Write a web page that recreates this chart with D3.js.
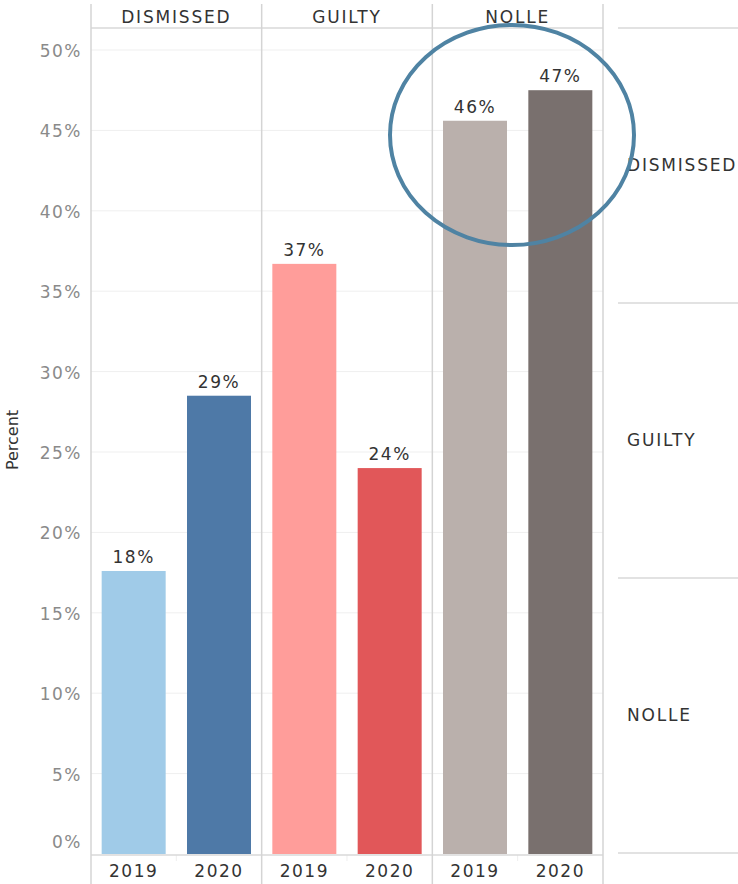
<!DOCTYPE html>
<html>
<head>
<meta charset="utf-8">
<script src="https://cdn.jsdelivr.net/npm/d3@7"></script>
<style>
  body { margin: 0; background: #fff; }
  text { font-family: "DejaVu Sans", "Noto Sans", sans-serif; }
</style>
</head>
<body>
<div id="chart"></div>
<script>
const width = 738, height = 884,
  margin = { left: 91, top: 50, right: 135, bottom: 30 };

const outcomes = ['DISMISSED', 'GUILTY', 'NOLLE'];
const years = ['2019', '2020'];
const percents = [
  [17.6, 28.5],
  [36.7, 24.0],
  [45.6, 47.5]
];
const labels = [['18%', '29%'], ['37%', '24%'], ['46%', '47%']];
const colors = [['#a0cbe8', '#4e79a7'], ['#ff9d9a', '#e15759'], ['#bab0ac', '#79706e']];
const yTicks = [0, 5, 10, 15, 20, 25, 30, 35, 40, 45, 50];

const svg = d3.select('#chart')
  .append('svg')
  .attr('width', width)
  .attr('height', height)

const plotRight = 603, baseY = 854;

const y = d3.scaleLinear().domain([0, 50]).range([baseY, margin.top]);
const xPanel = d3.scaleBand().domain(outcomes).range([margin.left, plotRight]);
const xYear = d3.scaleBand().domain(years).range([0, xPanel.bandwidth()])
  .paddingInner(0.25).paddingOuter(0.125);

// gridlines
svg.append('g')
  .selectAll('line')
  .data(yTicks.filter(t => t > 0))
  .enter()
  .append('line')
  .attr('x1', margin.left).attr('x2', plotRight)
  .attr('y1', d => y(d)).attr('y2', d => y(d))
  .attr('stroke', '#efefef')

// y tick labels
svg.append('g')
  .selectAll('text')
  .data(yTicks)
  .enter()
  .append('text')
  .attr('x', 82)
  .attr('y', d => d === 0 ? y(d) - 12 : y(d) + 1)
  .attr('dy', '0.35em')
  .attr('text-anchor', 'end')
  .attr('fill', '#8a8a8a')
  .attr('font-size', 17)
  .attr('letter-spacing', 1.5)
  .text(d => d + '%')

svg.append('text')
  .attr('transform', 'translate(18,440) rotate(-90)')
  .attr('text-anchor', 'middle')
  .attr('fill', '#333')
  .attr('font-size', 16)
  .text('Percent')

// panels
const panel = svg.selectAll('.panel')
  .data(outcomes)
  .enter()
  .append('g')
  .attr('class', 'panel')
  .attr('transform', d => `translate(${xPanel(d)},0)`)

panel.append('text')
  .attr('x', xPanel.bandwidth() / 2)
  .attr('y', 17)
  .attr('dy', '0.35em')
  .attr('text-anchor', 'middle')
  .attr('fill', '#333')
  .attr('font-size', 17)
  .attr('letter-spacing', 1.8)
  .text(d => d)

panel.each(function (o, i) {
  const g = d3.select(this);
  const bars = years.map((yr, j) => ({ yr, v: percents[i][j], lab: labels[i][j], c: colors[i][j] }));
  g.selectAll('rect')
    .data(bars)
    .enter()
    .append('rect')
    .attr('x', d => xYear(d.yr))
    .attr('width', xYear.bandwidth())
    .attr('y', d => y(d.v))
    .attr('height', d => baseY - y(d.v))
    .attr('fill', d => d.c)
  g.selectAll('.val')
    .data(bars)
    .enter()
    .append('text')
    .attr('class', 'val')
    .attr('x', d => xYear(d.yr) + xYear.bandwidth() / 2)
    .attr('y', d => y(d.v) - 8)
    .attr('text-anchor', 'middle')
    .attr('fill', '#333')
    .attr('font-size', 17)
    .attr('letter-spacing', 1.5)
    .text(d => d.lab)
  g.selectAll('.yr')
    .data(years)
    .enter()
    .append('text')
    .attr('class', 'yr')
    .attr('x', d => xYear(d) + xYear.bandwidth() / 2)
    .attr('y', 871)
    .attr('dy', '0.35em')
    .attr('text-anchor', 'middle')
    .attr('fill', '#333')
    .attr('font-size', 17)
    .attr('letter-spacing', 1.5)
    .text(d => d)
  // small separator tick between years
  g.append('line')
    .attr('x1', xPanel.bandwidth() / 2).attr('x2', xPanel.bandwidth() / 2)
    .attr('y1', 855).attr('y2', 861)
    .attr('stroke', '#eee')
});

// frame lines
svg.append('line')
  .attr('x1', margin.left).attr('x2', plotRight)
  .attr('y1', 28).attr('y2', 28)
  .attr('stroke', '#d9d9d9').attr('stroke-width', 1.5)
svg.append('line')
  .attr('x1', margin.left).attr('x2', plotRight)
  .attr('y1', 855).attr('y2', 855)
  .attr('stroke', '#d9d9d9').attr('stroke-width', 1.5)
svg.append('g')
  .selectAll('line')
  .data(outcomes.map(o => xPanel(o)).concat([plotRight]))
  .enter()
  .append('line')
  .attr('x1', d => d).attr('x2', d => d)
  .attr('y1', 4).attr('y2', height)
  .attr('stroke', '#d4d4d4').attr('stroke-width', 1.5)

// right-hand row headers
const yRow = d3.scaleBand().domain(outcomes).range([28, 853]);
svg.append('g')
  .selectAll('line')
  .data([28, 303, 578, 853])
  .enter()
  .append('line')
  .attr('x1', 618).attr('x2', width)
  .attr('y1', d => d).attr('y2', d => d)
  .attr('stroke', '#d9d9d9').attr('stroke-width', 1.5)
svg.append('g')
  .selectAll('text')
  .data(outcomes)
  .enter()
  .append('text')
  .attr('x', 627)
  .attr('y', d => yRow(d) + yRow.bandwidth() / 2)
  .attr('dy', '0.35em')
  .attr('fill', '#333')
  .attr('font-size', 17)
  .attr('letter-spacing', 1.8)
  .text(d => d)

// highlight circle
svg.append('ellipse')
  .attr('cx', 512).attr('cy', 135)
  .attr('rx', 122).attr('ry', 110)
  .attr('fill', 'none')
  .attr('stroke', '#4f83a3')
  .attr('stroke-width', 4)
</script>
</body>
</html>
